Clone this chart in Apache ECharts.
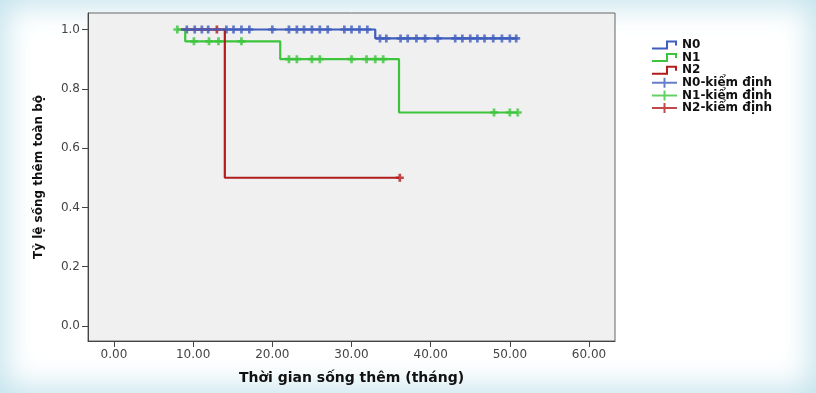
<!DOCTYPE html>
<html lang="vi">
<head>
<meta charset="UTF-8">
<script src="https://cdn.jsdelivr.net/npm/echarts@6/dist/echarts.min.js"></script>
<style>
  body { margin: 0; }
  #container {
    width: 816px;
    height: 393px;
    background: #fff;
    box-shadow: inset 0 0 30px 6px #c4e3ed;
  }
</style>
</head>
<body>
<div id="container"></div>
<script>
  // thời điểm sự kiện (tháng) và tỷ lệ sống sau mỗi bước
  var n0Time = [8.5, 33, 51];
  var n0Surv = [1, 0.97, 0.97];
  var n1Time = [8, 9, 21, 36, 51];
  var n1Surv = [1, 0.96, 0.9, 0.72, 0.72];
  var n2Time = [8.5, 14, 36];
  var n2Surv = [1, 0.5, 0.5];

  // các điểm kiểm định (censored)
  var n0CensTime = [9.2, 10.2, 11.1, 11.9, 14.2, 15.1, 16.1, 17.1, 20.0, 22.1, 23.1, 24.0, 25.0, 26.0, 27.0, 29.1, 30.0, 31.0, 32.0,
    33.6, 34.4, 36.2, 37.1, 38.2, 39.3, 40.9, 43.1, 44.0, 45.0, 45.9, 46.8, 47.9, 49.0, 50.0, 50.8];
  var n0CensSurv = [1, 1, 1, 1, 1, 1, 1, 1, 1, 1, 1, 1, 1, 1, 1, 1, 1, 1, 1,
    0.97, 0.97, 0.97, 0.97, 0.97, 0.97, 0.97, 0.97, 0.97, 0.97, 0.97, 0.97, 0.97, 0.97, 0.97, 0.97];
  var n1CensTime = [8.0, 10.1, 12.0, 13.2, 16.1, 22.1, 23.1, 25.0, 26.0, 30.0, 31.9, 33.0, 34.0, 48.0, 50.0, 51.0];
  var n1CensSurv = [1, 0.96, 0.96, 0.96, 0.96, 0.9, 0.9, 0.9, 0.9, 0.9, 0.9, 0.9, 0.9, 0.72, 0.72, 0.72];
  var n2CensTime = [13.0, 36.1];
  var n2CensSurv = [1, 0.5];

  var xTicks = [0, 10, 20, 30, 40, 50, 60];
  var yTicks = [0, 0.2, 0.4, 0.6, 0.8, 1.0];

  var blue = '#3f5dbd', green = '#3cc43c', red = '#b11c1c';
  var font = 'DejaVu Sans';

  function pairs(xs, ys) {
    var res = [];
    for (var i = 0; i < xs.length; i++) res.push([xs[i], ys[i]]);
    return res;
  }

  var stepIcon = 'path://M0,7 L14,7 L14,0 L25,0 L25,5 L23,5 L23,2 L16,2 L16,9 L0,9 Z';
  var plusIcon = 'path://M0,4 L25,4 L25,6 L0,6 Z M11.5,0 L13.5,0 L13.5,10 L11.5,10 Z';
  var plusSym = 'path://M0,3.3 L10,3.3 L10,6.7 L0,6.7 Z M3.3,0 L6.7,0 L6.7,10 L3.3,10 Z';

  function stepLine(name, xs, ys, color) {
    return {
      name: name, type: 'line', step: 'end', showSymbol: false,
      data: pairs(xs, ys), color: color,
      lineStyle: { color: color, width: 2.2 }, animation: false
    };
  }
  function censored(name, xs, ys, color) {
    return {
      name: name, type: 'scatter', symbol: plusSym, symbolSize: 8,
      data: pairs(xs, ys), itemStyle: { color: color }, animation: false
    };
  }

  var myChart = echarts.init(document.getElementById('container'));
  var option = {
    backgroundColor: 'transparent',
    textStyle: { fontFamily: font },
    grid: {
      left: 88, right: 201, top: 13, bottom: 52,
      show: true, backgroundColor: '#f0f0f0', borderColor: '#666', borderWidth: 1
    },
    legend: {
      orient: 'vertical', left: 647, top: 34,
      itemWidth: 25, itemHeight: 10, itemGap: 0.6,
      textStyle: { fontFamily: font, fontWeight: 'bold', fontSize: 12, lineHeight: 12, color: '#111' },
      data: [
        { name: 'N0', icon: stepIcon, itemStyle: { color: blue } },
        { name: 'N1', icon: stepIcon, itemStyle: { color: green } },
        { name: 'N2', icon: stepIcon, itemStyle: { color: red } },
        { name: 'N0-kiểm định', icon: plusIcon, itemStyle: { color: blue } },
        { name: 'N1-kiểm định', icon: plusIcon, itemStyle: { color: green } },
        { name: 'N2-kiểm định', icon: plusIcon, itemStyle: { color: red } }
      ]
    },
    xAxis: {
      type: 'value', min: -3.28, max: 63.28,
      name: 'Thời gian sống thêm (tháng)', nameLocation: 'middle', nameGap: 30,
      nameTextStyle: { fontFamily: font, fontWeight: 'bold', fontSize: 14, color: '#111' },
      axisLine: { show: true, onZero: false, lineStyle: { color: '#444' } },
      axisTick: { show: true, length: 6, customValues: xTicks, lineStyle: { color: '#444' } },
      axisLabel: {
        customValues: xTicks, margin: 8, fontSize: 12, color: '#444',
        formatter: function (v) { return v.toFixed(2); }
      },
      splitLine: { show: false }
    },
    yAxis: {
      type: 'value', min: -0.0506, max: 1.0556,
      name: 'Tỷ lệ sống thêm toàn bộ', nameLocation: 'middle', nameGap: 43,
      nameTextStyle: { fontFamily: font, fontWeight: 'bold', fontSize: 12, color: '#111' },
      axisLine: { show: true, onZero: false, lineStyle: { color: '#444' } },
      axisTick: { show: true, length: 6, customValues: yTicks, lineStyle: { color: '#444' } },
      axisLabel: {
        customValues: yTicks, margin: 8, fontSize: 12, color: '#444',
        formatter: function (v) { return v.toFixed(1); }
      },
      splitLine: { show: false }
    },
    series: [
      stepLine('N1', n1Time, n1Surv, green),
      stepLine('N2', n2Time, n2Surv, red),
      stepLine('N0', n0Time, n0Surv, blue),
      censored('N0-kiểm định', n0CensTime, n0CensSurv, blue),
      censored('N1-kiểm định', n1CensTime, n1CensSurv, green),
      censored('N2-kiểm định', n2CensTime, n2CensSurv, red)
    ]
  };
  myChart.setOption(option);
</script>
</body>
</html>
